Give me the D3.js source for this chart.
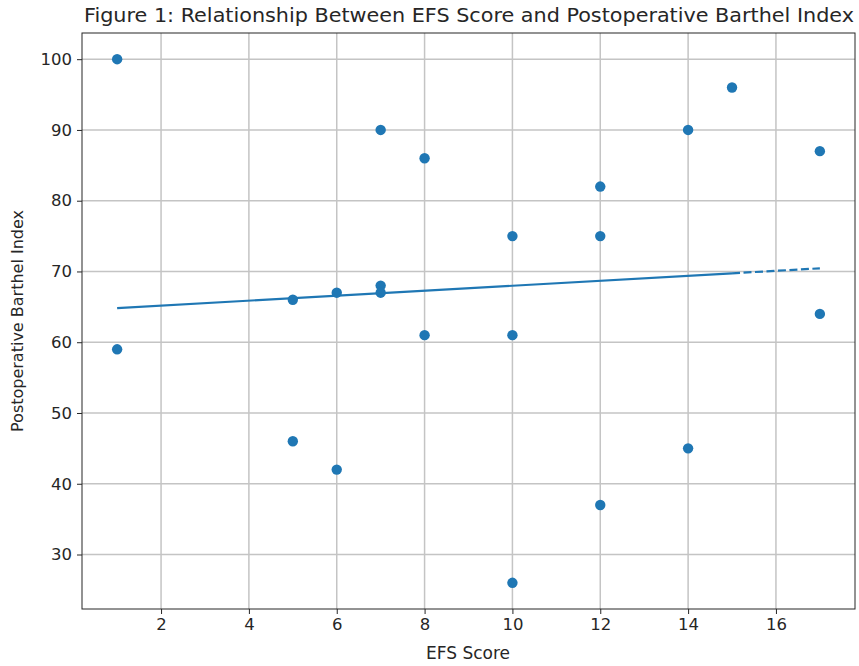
<!DOCTYPE html>
<html>
<head>
<meta charset="utf-8">
<script src="https://cdn.jsdelivr.net/npm/d3@7"></script>
<style>
  body { margin: 0; background: #fff; }
  text { font-family: "DejaVu Sans", sans-serif; fill: #262626; }
</style>
</head>
<body>
<div id="chart"></div>
<script>
// EFS score vs postoperative Barthel index
const efsScore = [1, 1, 5, 5, 6, 6, 7, 7, 7, 8, 8, 10, 10, 10, 12, 12, 12, 14, 14, 15, 17, 17];
const barthel  = [100, 59, 66, 46, 67, 42, 90, 68, 67, 86, 61, 75, 61, 26, 82, 75, 37, 90, 45, 96, 87, 64];
const xTicks = [2, 4, 6, 8, 10, 12, 14, 16];
const yTicks = [30, 40, 50, 60, 70, 80, 90, 100];

const width = 859, height = 666;
const margin = { top: 33, right: 4, bottom: 57, left: 82 };
const color = "#1f77b4";

const svg = d3.select("#chart")
  .append("svg")
  .attr("width", width)
  .attr("height", height);

const x = d3.scaleLinear().domain([0.2, 17.8]).range([margin.left, width - margin.right]);
const y = d3.scaleLinear().domain([22.3, 103.7]).range([height - margin.bottom, margin.top]);

// grid
svg.append("g")
  .selectAll("line")
  .data(xTicks)
  .enter()
  .append("line")
  .attr("x1", d => x(d)).attr("x2", d => x(d))
  .attr("y1", margin.top).attr("y2", height - margin.bottom)
  .attr("stroke", "#c4c4c4").attr("stroke-width", 1.5);

svg.append("g")
  .selectAll("line")
  .data(yTicks)
  .enter()
  .append("line")
  .attr("x1", margin.left).attr("x2", width - margin.right)
  .attr("y1", d => y(d)).attr("y2", d => y(d))
  .attr("stroke", "#c4c4c4").attr("stroke-width", 1.5);

// axes
const xAxis = svg.append("g")
  .attr("transform", `translate(0,${height - margin.bottom})`)
  .call(d3.axisBottom(x).tickValues(xTicks).tickSize(5).tickPadding(4).tickFormat(d3.format("d")));
const yAxis = svg.append("g")
  .attr("transform", `translate(${margin.left},0)`)
  .call(d3.axisLeft(y).tickValues(yTicks).tickSize(5).tickPadding(5).tickFormat(d3.format("d")));
[xAxis, yAxis].forEach(a => {
  a.select(".domain").remove();
  a.selectAll("text").style("font-size", "16.5px").attr("fill", "#262626");
  a.selectAll("line").attr("stroke", "#262626");
});

// frame
svg.append("rect")
  .attr("x", margin.left).attr("y", margin.top)
  .attr("width", width - margin.right - margin.left)
  .attr("height", height - margin.bottom - margin.top)
  .attr("fill", "none").attr("stroke", "#262626").attr("stroke-width", 1);

// linear fit
const mx = d3.mean(efsScore), my = d3.mean(barthel);
const sxy = d3.sum(efsScore, (v, i) => (v - mx) * (barthel[i] - my));
const sxx = d3.sum(efsScore, v => (v - mx) * (v - mx));
const slope = sxy / sxx, intercept = my - slope * mx;
const fit = v => intercept + slope * v;

const xs = Array.from(new Set(efsScore)).sort((a, b) => a - b);
const lastSolid = xs[xs.length - 2];
const line = d3.line().x(d => x(d)).y(d => y(fit(d)));

svg.append("path")
  .attr("d", line([xs[0], lastSolid]))
  .attr("fill", "none").attr("stroke", color).attr("stroke-width", 2.2);
svg.append("path")
  .attr("d", line([lastSolid, xs[xs.length - 1]]))
  .attr("fill", "none").attr("stroke", color).attr("stroke-width", 2.2)
  .attr("stroke-dasharray", "8,3.5");

// points
svg.append("g")
  .selectAll("circle")
  .data(efsScore.map((v, i) => [v, barthel[i]]))
  .enter()
  .append("circle")
  .attr("cx", d => x(d[0]))
  .attr("cy", d => y(d[1]))
  .attr("r", 5.2)
  .attr("fill", color);

// labels
svg.append("text")
  .attr("x", 84)
  .attr("y", 22)
  .attr("textLength", 770)
  .attr("lengthAdjust", "spacingAndGlyphs")
  .style("font-size", "19.5px")
  .text("Figure 1: Relationship Between EFS Score and Postoperative Barthel Index");

svg.append("text")
  .attr("x", 468)
  .attr("y", 659)
  .attr("text-anchor", "middle")
  .style("font-size", "17px")
  .text("EFS Score");

svg.append("text")
  .attr("transform", `translate(23,${(margin.top + height - margin.bottom) / 2}) rotate(-90)`)
  .attr("text-anchor", "middle")
  .style("font-size", "16px")
  .text("Postoperative Barthel Index");
</script>
</body>
</html>
